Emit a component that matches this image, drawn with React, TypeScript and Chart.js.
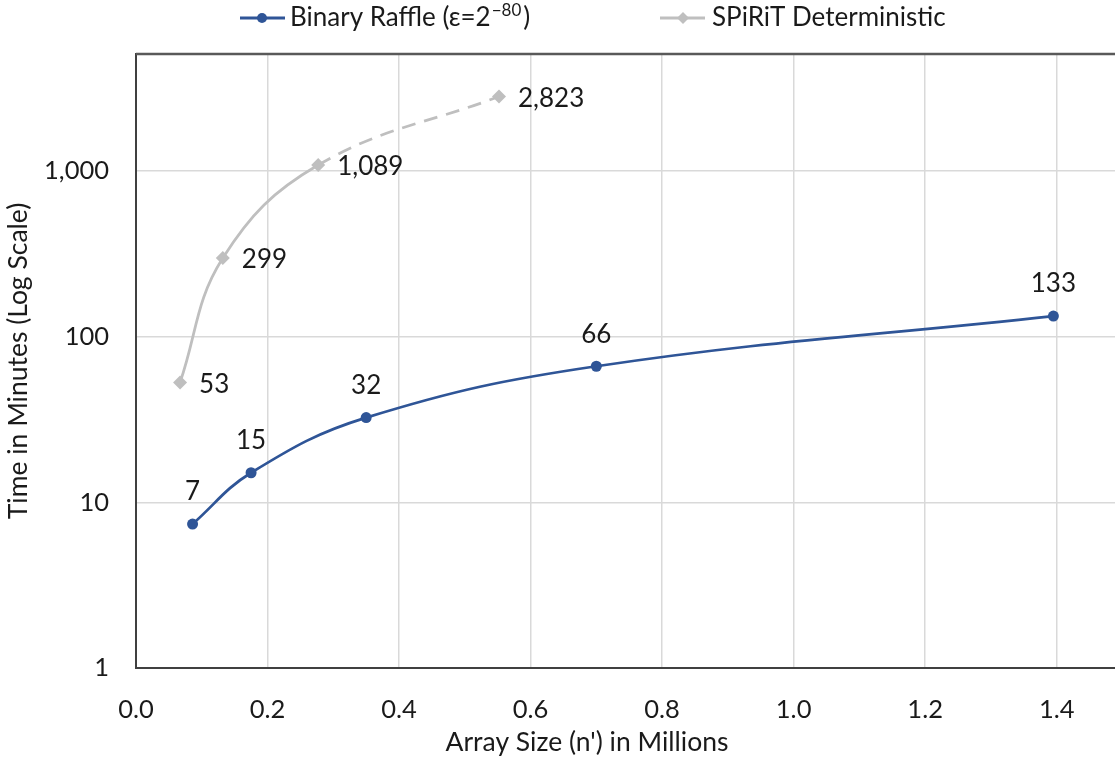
import React, { useEffect, useRef } from "react";
import { Chart, registerables } from "chart.js";

Chart.register(...registerables);

// ---- data ----
const raffleX = [0.086, 0.175, 0.35, 0.7, 1.395];
const raffleY = [7.4, 15.1, 32.5, 66.4, 133.4];
const raffleLabels = ["7", "15", "32", "66", "133"];

const spiritX = [0.067, 0.132, 0.277, 0.552];
const spiritY = [53, 299, 1089, 2823];
const spiritLabels = ["53", "299", "1,089", "2,823"];

const xTickValues = [0, 0.2, 0.4, 0.6, 0.8, 1.0, 1.2, 1.4, 1.6];
const yTickValues = [1, 10, 100, 1000];

const seriesNames = ["Binary Raffle (\u03b5=2", "SPiRiT Deterministic"];
const xTitle = "Array Size (n') in Millions";
const yTitle = "Time in Minutes (Log Scale)";

const FONT = "Lato, 'Noto Sans', sans-serif";
const BLUE = "#2f5597";
const GRAY = "#bfbfbf";
const TEXT = "#1a1a1a";

const labelPlugin = {
  id: "customLabels",
  afterDatasetsDraw(chart: any) {
    const ctx = chart.ctx;
    ctx.save();
    ctx.fillStyle = TEXT;
    ctx.font = `26px ${FONT}`;
    const m0 = chart.getDatasetMeta(0);
    m0.data.forEach((p: any, i: number) => {
      ctx.textAlign = "center";
      ctx.textBaseline = "middle";
      ctx.fillText(raffleLabels[i], p.x, p.y - 32);
    });
    const m1 = chart.getDatasetMeta(1);
    m1.data.forEach((p: any, i: number) => {
      ctx.textAlign = "left";
      ctx.textBaseline = "middle";
      ctx.fillText(spiritLabels[i], p.x + 19, p.y + 2);
    });
    ctx.restore();
  },
  afterDraw(chart: any) {
    const ctx = chart.ctx;
    const { left, right, top } = chart.chartArea;
    ctx.save();
    // top border
    ctx.strokeStyle = "#595959";
    ctx.lineWidth = 2.5;
    ctx.beginPath();
    ctx.moveTo(left, top);
    ctx.lineTo(right, top);
    ctx.stroke();

    // x axis title (centred on the full original chart width)
    ctx.fillStyle = TEXT;
    ctx.font = `26.5px ${FONT}`;
    ctx.textAlign = "center";
    ctx.textBaseline = "middle";
    ctx.fillText(xTitle, 587, 742);

    // legend
    const ly = 18;
    ctx.strokeStyle = BLUE;
    ctx.lineWidth = 3;
    ctx.beginPath();
    ctx.moveTo(240, ly);
    ctx.lineTo(285, ly);
    ctx.stroke();
    ctx.fillStyle = BLUE;
    ctx.beginPath();
    ctx.arc(262, ly, 5, 0, Math.PI * 2);
    ctx.fill();
    ctx.fillStyle = TEXT;
    ctx.font = `26px ${FONT}`;
    ctx.textAlign = "left";
    ctx.textBaseline = "middle";
    let x = 290;
    ctx.fillText(seriesNames[0], x, ly);
    x += ctx.measureText(seriesNames[0]).width + 1;
    ctx.font = `17px ${FONT}`;
    ctx.fillText("\u221280", x, ly - 7);
    x += ctx.measureText("\u221280").width + 2;
    ctx.font = `26px ${FONT}`;
    ctx.fillText(")", x, ly);

    ctx.strokeStyle = GRAY;
    ctx.lineWidth = 3;
    ctx.beginPath();
    ctx.moveTo(660, ly);
    ctx.lineTo(705, ly);
    ctx.stroke();
    ctx.fillStyle = GRAY;
    ctx.beginPath();
    ctx.moveTo(683, ly - 6);
    ctx.lineTo(689, ly);
    ctx.lineTo(683, ly + 6);
    ctx.lineTo(677, ly);
    ctx.closePath();
    ctx.fill();
    ctx.fillStyle = TEXT;
    ctx.fillText(seriesNames[1], 712, ly);
    ctx.restore();
  },
};

export default function App() {
  const ref = useRef<HTMLCanvasElement | null>(null);

  useEffect(() => {
    if (!ref.current) return;
    const chart = new Chart(ref.current, {
      type: "line",
      data: {
        datasets: [
          {
            label: "Binary Raffle (\u03b5=2\u207b\u2078\u2070)",
            data: raffleX.map((v, i) => ({ x: v, y: raffleY[i] })),
            borderColor: BLUE,
            backgroundColor: BLUE,
            borderWidth: 2.75,
            pointRadius: 5.5,
            pointStyle: "circle",
            pointBorderWidth: 0,
            tension: 0.4,
          },
          {
            label: "SPiRiT Deterministic",
            data: spiritX.map((v, i) => ({ x: v, y: spiritY[i] })),
            borderColor: GRAY,
            backgroundColor: GRAY,
            borderWidth: 2.75,
            pointRadius: 7,
            pointStyle: "rectRot",
            pointBorderWidth: 0,
            tension: 0.4,
            segment: {
              borderDash: (c: any) => (c.p0DataIndex === 2 ? [14, 9] : undefined),
            },
          },
        ],
      },
      options: {
        responsive: false,
        animation: false,
        devicePixelRatio: 1,
        layout: { padding: { top: 54, right: 31, left: 0, bottom: 0 } },
        plugins: {
          legend: { display: false },
          tooltip: { enabled: false },
        },
        scales: {
          x: {
            type: "linear",
            min: 0,
            max: 1.6,
            afterBuildTicks: (s: any) => {
              s.ticks = xTickValues.map((v) => ({ value: v }));
            },
            afterFit: (s: any) => {
              s.height = 92;
            },
            ticks: {
              callback: (v: any) => Number(v).toFixed(1),
              color: TEXT,
              font: { family: FONT, size: 25.5 },
              padding: 26,
              maxRotation: 0,
            },
            grid: { color: "#d9d9d9", lineWidth: 1.5, drawTicks: false },
            border: { color: "#404040", width: 2 },
            title: { display: false },
          },
          y: {
            type: "logarithmic",
            min: 1,
            max: 5100,
            afterBuildTicks: (s: any) => {
              s.ticks = yTickValues.map((v) => ({ value: v }));
            },
            afterFit: (s: any) => {
              s.width = 136;
            },
            ticks: {
              callback: (v: any) => Number(v).toLocaleString("en-US"),
              color: TEXT,
              font: { family: FONT, size: 25.5 },
              padding: 27,
            },
            grid: { color: "#d9d9d9", lineWidth: 1.5, drawTicks: false },
            border: { color: "#404040", width: 2 },
            title: {
              display: true,
              text: yTitle,
              color: TEXT,
              font: { family: FONT, size: 26.5 },
              padding: { top: 3, bottom: 0 },
            },
          },
        },
      },
      plugins: [labelPlugin],
    } as any);
    return () => chart.destroy();
  }, []);

  return (
    <div
      style={{
        position: "fixed",
        left: 0,
        top: 0,
        width: 1115,
        height: 760,
        overflow: "hidden",
        background: "#fff",
      }}
    >
      <canvas ref={ref} width={1232} height={760} style={{ width: 1232, height: 760, display: "block" }} />
    </div>
  );
}
